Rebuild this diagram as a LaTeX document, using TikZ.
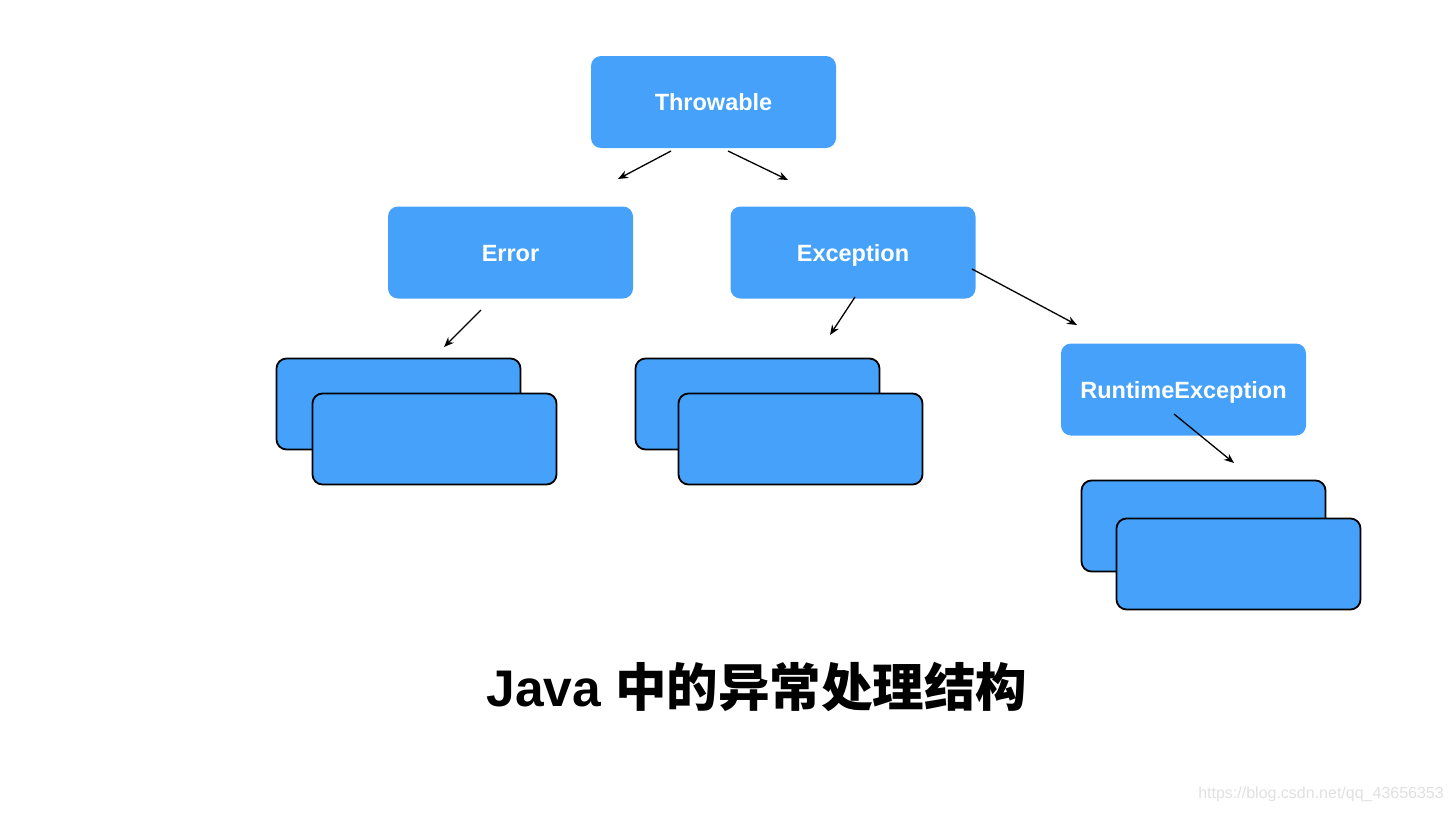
\documentclass[tikz,border=0pt]{standalone}
\usepackage{fontspec}
\setmainfont{Liberation Sans}
\newfontfamily\cjkbold{Noto Sans CJK SC Bold}
\usetikzlibrary{arrows.meta}
\definecolor{boxblue}{RGB}{69,161,249}
\begin{document}
\begin{tikzpicture}[x=1pt,y=-1pt,
  bluebox/.style={fill=boxblue, rounded corners=10pt, minimum width=245pt, minimum height=92pt, inner sep=0pt, text=white, text height=19pt, text depth=2pt, font=\fontsize{23.5}{28}\selectfont\bfseries},
  stackbox/.style={bluebox, draw=black, line width=1.8pt, minimum width=244pt, minimum height=91pt},
  conn/.style={line width=1.3pt, -{Stealth[length=10pt,width=8pt]}}
]
\useasboundingbox (0,0) rectangle (1452,812);
% main nodes
\node[bluebox] (throwable) at (713.5,102) {Throwable};
\node[bluebox] (error) at (510.5,252.5) {Error};
\node[bluebox] (exception) at (853,252.5) {Exception};
\node[bluebox] (runtime) at (1183.5,389.5) {RuntimeException};
% stacked boxes
\node[stackbox] (errA) at (398.5,404) {};
\node[stackbox] (errB) at (434.5,439) {};
\node[stackbox] (excA) at (757.5,404) {};
\node[stackbox] (excB) at (800.5,439) {};
\node[stackbox] (rtA) at (1203.5,526) {};
\node[stackbox] (rtB) at (1238.5,564) {};
% connector end points
\coordinate (t1) at (671,151);
\coordinate (t1e) at (618,179);
\coordinate (t2) at (728,151);
\coordinate (t2e) at (788,180);
\coordinate (e1) at (481,310);
\coordinate (e1e) at (444,347);
\coordinate (x1) at (855,297);
\coordinate (x1e) at (830,335);
\coordinate (x2) at (972,269);
\coordinate (x2e) at (1077,325);
\coordinate (r1) at (1174,414);
\coordinate (r1e) at (1234,463);
\draw[conn] (t1) -- (t1e);
\draw[conn] (t2) -- (t2e);
\draw[conn] (e1) -- (e1e);
\draw[conn] (x1) -- (x1e);
\draw[conn] (x2) -- (x2e);
\draw[conn] (r1) -- (r1e);
% title
\node[font=\fontsize{51.5}{60}\selectfont\bfseries, inner sep=0pt] (title) at (757,687) {Java {\cjkbold 中的异常处理结构}};
% watermark
\node[font=\fontsize{16}{19}\selectfont, text=black!12, anchor=east, inner sep=0pt] (wm) at (1444,794) {https://blog.csdn.net/qq\_43656353};
\end{tikzpicture}
\end{document}
